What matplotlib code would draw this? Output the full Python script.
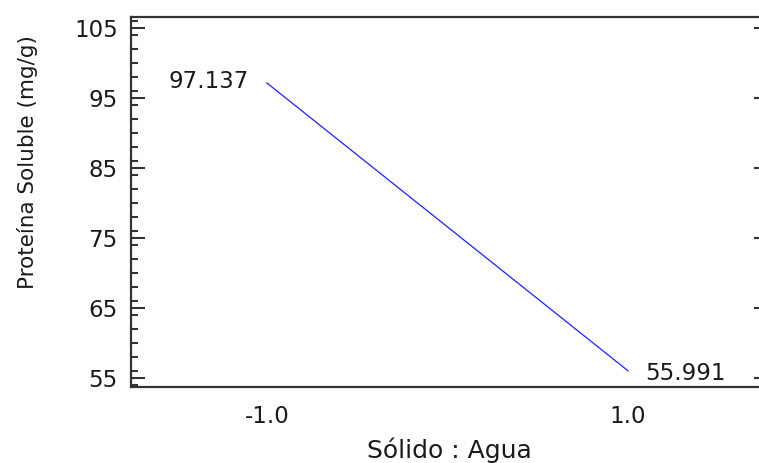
import matplotlib
matplotlib.use("Agg")
import matplotlib.pyplot as plt
from matplotlib.ticker import MultipleLocator, FixedLocator

# Predicted response across the coded factor range
x_levels = [-1.0, 1.0]
protein = [97.137, 55.991]
x_ticks = [-1.0, 1.0]
x_ticklabels = ["-1.0", "1.0"]
y_ticks = [55, 65, 75, 85, 95, 105]

plt.rcParams['font.family'] = ['DejaVu Sans']
text_color = '#1a1a1a'

fig = plt.figure(figsize=(7.59, 4.63), dpi=100)
W, H = 759, 463
left, right, top, bottom = 131, 768, 17, 387
ax = fig.add_axes([left / W, (H - bottom) / H, (right - left) / W, (bottom - top) / H])

ax.plot(x_levels, protein, color='#2020ff', linewidth=0.9, antialiased=True)

ax.set_xlim(-1.753, 1.776)
ax.set_ylim(53.67, 106.57)

ax.xaxis.set_major_locator(FixedLocator(x_ticks))
ax.set_xticklabels(x_ticklabels)
ax.yaxis.set_major_locator(FixedLocator(y_ticks))
ax.yaxis.set_minor_locator(MultipleLocator(2))

ax.tick_params(axis='x', length=0, pad=13, labelsize=16.5, labelcolor=text_color)
ax.tick_params(axis='y', which='major', direction='in', length=10, width=1.5,
               color='#333333', left=True, right=True, pad=9.5,
               labelsize=16.5, labelcolor=text_color)
ax.tick_params(axis='y', which='minor', direction='in', length=5, width=1.5,
               color='#333333', left=True, right=True)

for s in ax.spines.values():
    s.set_linewidth(1.6)
    s.set_color('#333333')

# value labels at the ends of the line
ax.annotate(f"{protein[0]:.3f}", xy=(x_levels[0], protein[0]), xytext=(-18, 1),
            textcoords='offset pixels', ha='right', va='center',
            fontsize=16.5, color=text_color)
ax.annotate(f"{protein[1]:.3f}", xy=(x_levels[1], protein[1]), xytext=(17, -3),
            textcoords='offset pixels', ha='left', va='center',
            fontsize=16.5, color=text_color)

ax.set_xlabel("Sólido : Agua", fontsize=18, color=text_color, labelpad=7)
ax.set_ylabel("Proteína Soluble (mg/g)", fontsize=15.5, color=text_color)
ax.yaxis.set_label_coords(-0.146, 0.608)

fig.savefig("out.png", dpi=100)
